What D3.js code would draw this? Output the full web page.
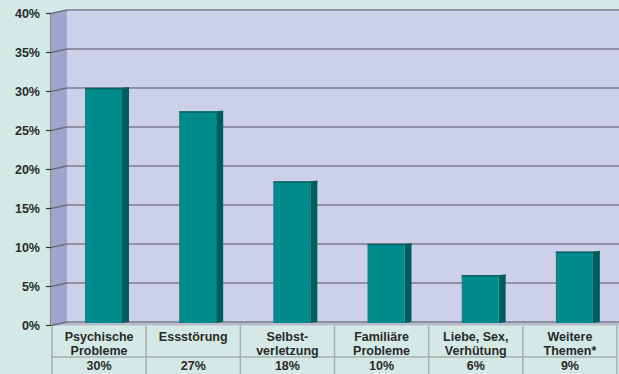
<!DOCTYPE html>
<head>
  <meta charset="utf-8">
  <script src="https://d3js.org/d3.v7.min.js"></script>
  <style>
    body { margin: 0; background: #d4e9e6; }
    svg text { font-family: "Liberation Sans", Arial, sans-serif; font-weight: bold; fill: #2a2a2a; }
  </style>
</head>
<body>
  <script>
    // chart data
    var categories = [["Psychische", "Probleme"], ["Essstörung"], ["Selbst-", "verletzung"], ["Familiäre", "Probleme"], ["Liebe, Sex,", "Verhütung"], ["Weitere", "Themen*"]];
    var values = [30, 27, 18, 10, 6, 9];
    var valueLabels = ["30%", "27%", "18%", "10%", "6%", "9%"];
    var yTicks = [0, 5, 10, 15, 20, 25, 30, 35, 40];

    var outerWidth = 619, outerHeight = 374;

    // depth of the fake 3d wall
    var depth = 16, rise = 3.5;
    var margin = { left: 51, right: 2, top: 10 };
    var floorY = 322;

    var svg = d3.select("body").append("svg")
      .attr("width", outerWidth)
      .attr("height", outerHeight);

    var yScale = d3.scaleLinear().domain([0, 40]).range([floorY, margin.top]);

    // columns of the table under the chart
    var xScale = d3.scaleBand()
      .domain(d3.range(categories.length))
      .range([margin.left + 1, 617]);

    var wallLeft = margin.left + depth;

    // back wall
    svg.append("rect")
      .attr("x", wallLeft).attr("y", yScale(40))
      .attr("width", outerWidth - wallLeft).attr("height", floorY - yScale(40))
      .attr("fill", "#cdd0e9");

    // side wall
    svg.append("polygon")
      .attr("points", [
        [margin.left, yScale(40) + rise], [wallLeft, yScale(40)],
        [wallLeft, floorY], [margin.left, floorY + rise]
      ].join(" "))
      .attr("fill", "#a3a4cc");

    // floor edge
    svg.append("polygon")
      .attr("points", [
        [margin.left, floorY + rise], [wallLeft, floorY], [outerWidth, floorY], [outerWidth, floorY + rise]
      ].join(" "))
      .attr("fill", "#b9bacb");

    // gridlines: back wall + side wall
    yTicks.forEach(function(t) {
      var y = yScale(t);
      svg.append("line")
        .attr("x1", wallLeft).attr("x2", outerWidth)
        .attr("y1", y).attr("y2", y)
        .attr("stroke", "#7c7d8e").attr("stroke-width", 1.6);
      svg.append("line")
        .attr("x1", margin.left).attr("x2", wallLeft)
        .attr("y1", y + rise).attr("y2", y)
        .attr("stroke", "#6e6f82").attr("stroke-width", 1.4);
    });

    // y axis line and ticks
    svg.append("line")
      .attr("x1", margin.left - 0.5).attr("x2", margin.left - 0.5)
      .attr("y1", yScale(40) + rise).attr("y2", floorY + rise)
      .attr("stroke", "#8a8a96").attr("stroke-width", 1.2);

    svg.selectAll(".tick")
      .data(yTicks)
      .enter().append("line")
      .attr("x1", margin.left - 5).attr("x2", margin.left)
      .attr("y1", function(d) { return yScale(d) + rise; })
      .attr("y2", function(d) { return yScale(d) + rise; })
      .attr("stroke", "#333").attr("stroke-width", 1.2);

    svg.selectAll(".yLabel")
      .data(yTicks)
      .enter().append("text")
      .attr("x", 40)
      .attr("y", function(d) { return yScale(d) + rise + 4.5; })
      .attr("text-anchor", "end")
      .style("font-size", "12.5px")
      .text(function(d) { return d + "%"; });

    // bars
    var barOffset = 33, barWidth = 37, sideWidth = 7;
    var bars = svg.selectAll(".bar")
      .data(values)
      .enter().append("g");

    bars.append("polygon")
      .attr("points", function(d, i) {
        var x = xScale(i) + barOffset + barWidth;
        return [[x, yScale(d)], [x + sideWidth, yScale(d) - 1], [x + sideWidth, floorY], [x, floorY + 1]].join(" ");
      })
      .attr("fill", "#005d5c");

    bars.append("rect")
      .attr("x", function(d, i) { return xScale(i) + barOffset; })
      .attr("y", function(d) { return yScale(d); })
      .attr("width", barWidth)
      .attr("height", function(d) { return floorY + 1 - yScale(d); })
      .attr("fill", "#008c8a");

    bars.append("line")
      .attr("x1", function(d, i) { return xScale(i) + barOffset; })
      .attr("x2", function(d, i) { return xScale(i) + barOffset + barWidth + sideWidth; })
      .attr("y1", function(d) { return yScale(d) + 0.5; })
      .attr("y2", function(d) { return yScale(d) + 0.5; })
      .attr("stroke", "#0a5e5d").attr("stroke-width", 1.5);

    // data table
    var tableTop = floorY + rise, rowLine = 357;
    var gridColor = "#a9aeae";

    svg.append("line")
      .attr("x1", margin.left + 1).attr("x2", 617)
      .attr("y1", rowLine).attr("y2", rowLine)
      .attr("stroke", gridColor).attr("stroke-width", 1.5);

    svg.selectAll(".colLine")
      .data(d3.range(categories.length + 1))
      .enter().append("line")
      .attr("x1", function(i) { return i < categories.length ? xScale(i) : xScale(i - 1) + xScale.bandwidth(); })
      .attr("x2", function(i) { return i < categories.length ? xScale(i) : xScale(i - 1) + xScale.bandwidth(); })
      .attr("y1", tableTop).attr("y2", outerHeight)
      .attr("stroke", gridColor).attr("stroke-width", 1.5);

    categories.forEach(function(lines, i) {
      var cx = xScale(i) + xScale.bandwidth() / 2;
      lines.forEach(function(line, j) {
        svg.append("text")
          .attr("x", cx)
          .attr("y", 341 + j * 14)
          .attr("text-anchor", "middle")
          .style("font-size", "12.5px")
          .text(line);
      });
      svg.append("text")
        .attr("x", cx)
        .attr("y", 370)
        .attr("text-anchor", "middle")
        .style("font-size", "12.5px")
        .text(valueLabels[i]);
    });
  </script>
</body>
